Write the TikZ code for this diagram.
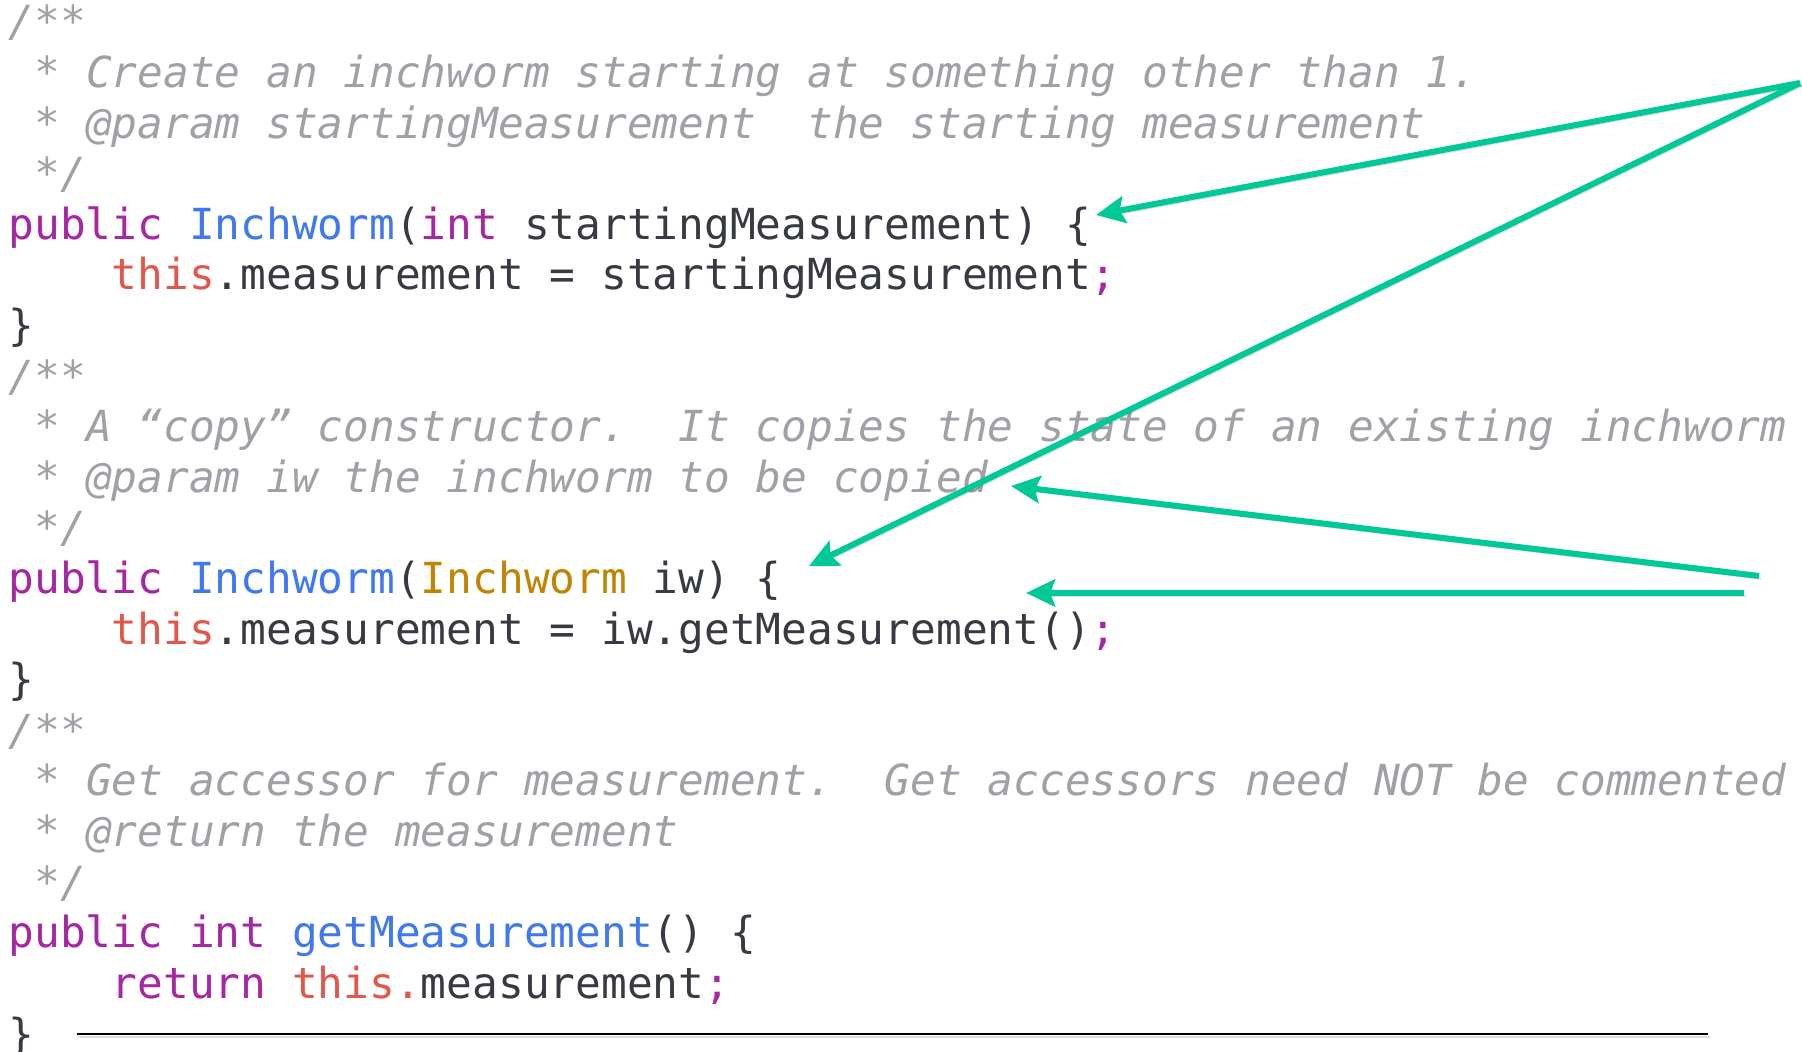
\documentclass[tikz,border=0pt]{standalone}
\usepackage{fontspec}
\usepackage{xcolor}
\usepackage{tikz}
\usetikzlibrary{arrows.meta}
\newfontfamily\codefont{DejaVu Sans Mono}[ItalicFont={DejaVu Sans Mono Oblique}]
\definecolor{kwpurple}{HTML}{A626A4}
\definecolor{fnblue}{HTML}{4078F2}
\definecolor{typegold}{HTML}{C18401}
\definecolor{selfred}{HTML}{E45649}
\definecolor{cmtgray}{HTML}{A0A1A7}
\definecolor{plaintext}{HTML}{383A42}
\definecolor{arrgreen}{RGB}{0,200,150}
\newcommand{\kw}[1]{\textcolor{kwpurple}{#1}}
\newcommand{\fn}[1]{\textcolor{fnblue}{#1}}
\newcommand{\ty}[1]{\textcolor{typegold}{#1}}
\newcommand{\slf}[1]{\textcolor{selfred}{#1}}
\frenchspacing

\begin{document}
\begin{tikzpicture}[
  x=0.01cm, y=-0.01cm,
  src/.style={anchor=base west, inner sep=0pt, text=plaintext,
              font=\codefont\fontsize{12.17pt}{14.4pt}\selectfont},
  cmt/.style={src, text=cmtgray,
              font=\codefont\itshape\fontsize{12.17pt}{14.4pt}\selectfont},
  shadowed/.style={preaction={draw=black, opacity=0.13,
                   transform canvas={shift={(2,3)}}}},
  arr/.style={draw=arrgreen, line width=0.06cm, shadowed,
              -{Stealth[length=0.29cm, width=0.27cm, inset=0.05cm]}}
]
  \useasboundingbox (0,0) rectangle (1802,1052);

  \node[cmt] (docA) at (8,37) {/**};
  \node[cmt] (docA1) at (33.8,87.6) {* Create an inchworm starting at something other than 1.};
  \node[cmt] (docA2) at (33.8,138.2) {* @param startingMeasurement\ \ the starting measurement};
  \node[cmt] (docA3) at (33.8,188.8) {*/};
  \node[src] (ctorA) at (8,239.4) {\kw{public} \fn{Inchworm}(\kw{int} startingMeasurement) \{};
  \node[src] (bodyA) at (111.1,290) {\slf{this}.measurement = startingMeasurement\kw{;}};
  \node[src] (endA) at (8,340.6) {\}};

  \node[cmt] (docB) at (8,391.2) {/**};
  \node[cmt] (docB1) at (33.8,441.8) {* A “copy” constructor.\ \ It copies the state of an existing inchworm};
  \node[cmt] (docB2) at (33.8,492.4) {* @param iw the inchworm to be copied};
  \node[cmt] (docB3) at (33.8,543) {*/};
  \node[src] (ctorB) at (8,593.6) {\kw{public} \fn{Inchworm}(\ty{Inchworm} iw) \{};
  \node[src] (bodyB) at (111.1,644.2) {\slf{this}.measurement = iw.getMeasurement()\kw{;}};
  \node[src] (endB) at (8,694.8) {\}};

  \node[cmt] (docC) at (8,745.4) {/**};
  \node[cmt] (docC1) at (33.8,796) {* Get accessor for measurement.\ \ Get accessors need NOT be commented};
  \node[cmt] (docC2) at (33.8,846.6) {* @return the measurement};
  \node[cmt] (docC3) at (33.8,897.2) {*/};
  \node[src] (getC) at (8,947.8) {\kw{public} \kw{int} \fn{getMeasurement}() \{};
  \node[src] (bodyC) at (111.1,998.4) {\kw{return} \slf{this.}measurement\kw{;}};
  \node[src] (endC) at (8,1049) {\}};

  \coordinate (corner) at (1800,83);
  \coordinate (tailcopied) at (1759,576);
  \coordinate (tailget) at (1744,593);
  \coordinate (braceA) at (1096,215);
  \coordinate (braceB) at (809,566);
  \coordinate (copied) at (1011,486);
  \coordinate (getcall) at (1026,593);
  \coordinate (ruleL) at (77,1034);
  \coordinate (ruleR) at (1708,1034);

  \draw[arr] (corner) -- (braceA);
  \draw[arr] (corner) -- (braceB);
  \draw[arr] (tailcopied) -- (copied);
  \draw[arr] (tailget) -- (getcall);
  \draw[shadowed, line width=0.025cm] (ruleL) -- (ruleR);
\end{tikzpicture}
\end{document}
